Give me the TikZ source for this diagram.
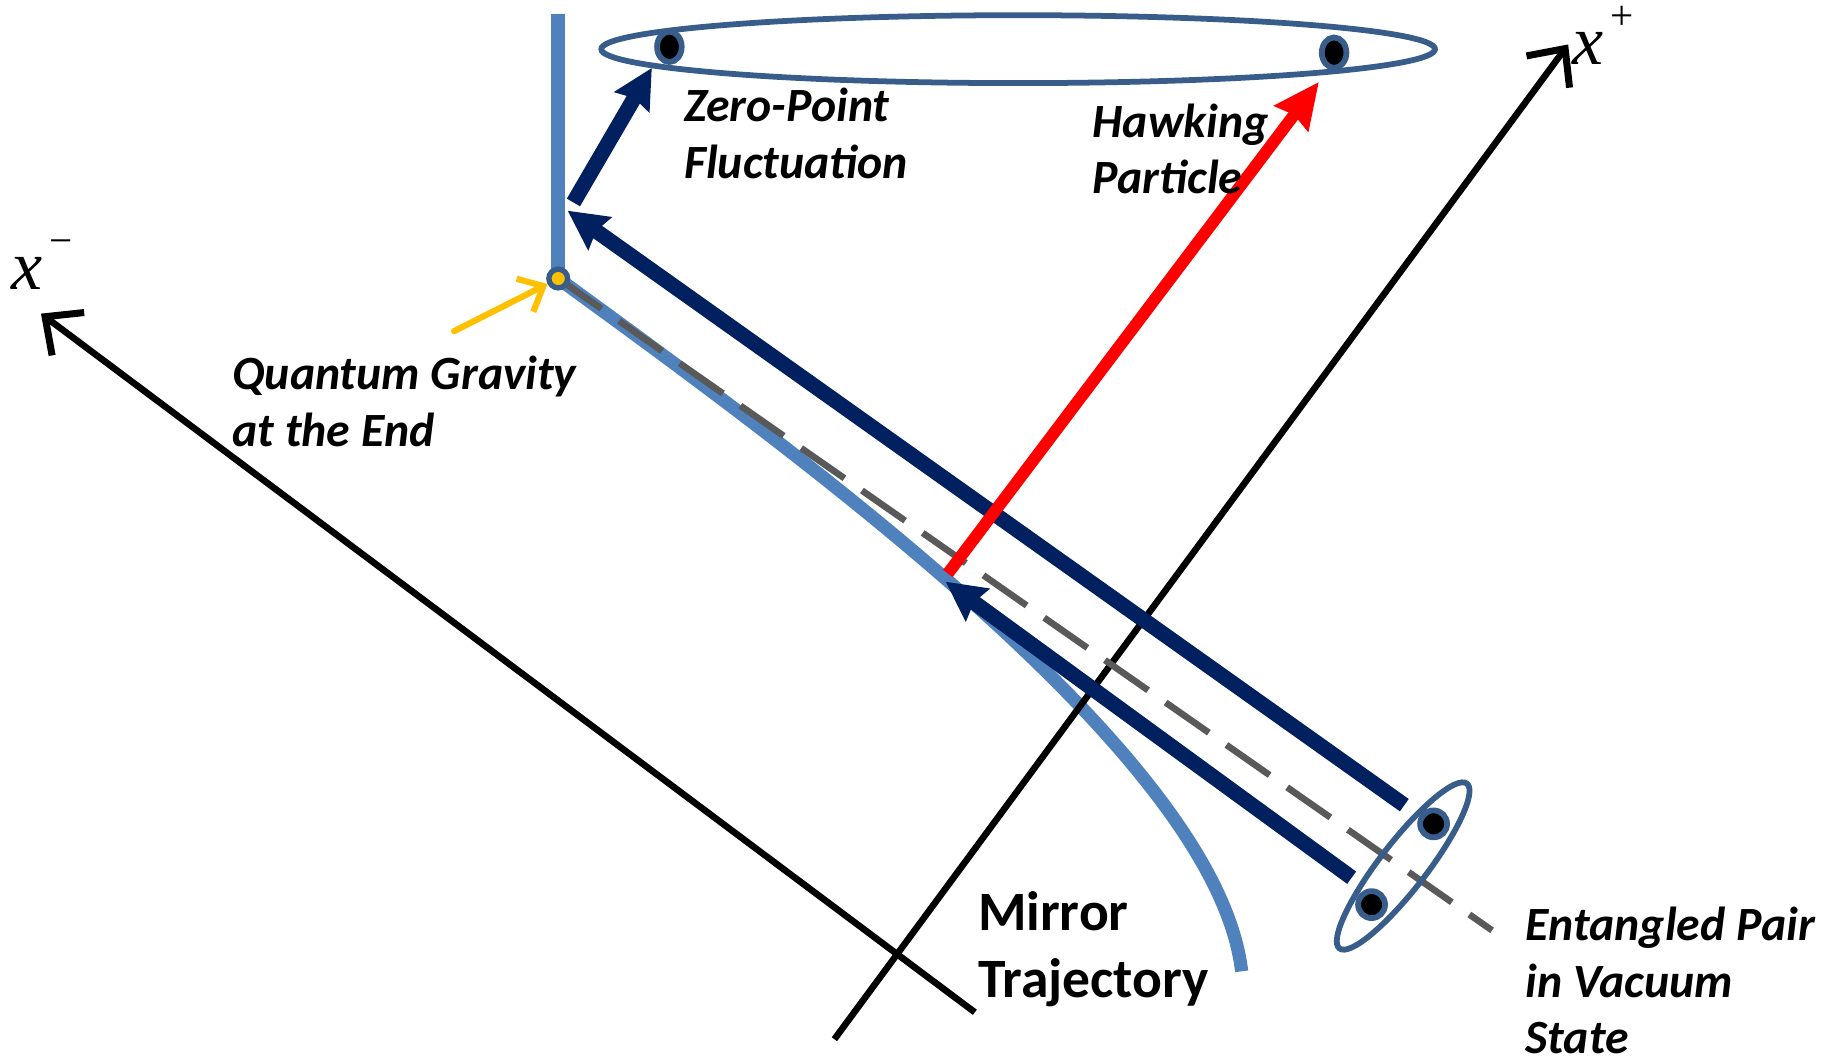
\documentclass[tikz,border=0pt]{standalone}
\usepackage{fontspec}
\setmainfont{Carlito}
\newfontfamily\timesfont{Liberation Serif}
\usepackage{tikz}
\usetikzlibrary{positioning, shapes.geometric, arrows.meta}

\definecolor{mirrorblue}{RGB}{79,129,189}
\definecolor{pairnavy}{RGB}{0,32,96}
\definecolor{ringblue}{RGB}{56,93,138}
\definecolor{dashgray}{RGB}{89,89,89}
\definecolor{qgold}{RGB}{255,192,0}

\begin{document}
\begin{tikzpicture}[x=0.01cm, y=-0.01cm,
    axisline/.style={line width=1.6pt, -{Straight Barb[length=7pt, width=13pt, line width=1.7pt]}},
    ray/.style={pairnavy, line width=3.7pt, -{Stealth[length=9.5pt, width=9.5pt, inset=1pt]}},
    ring/.style={draw=ringblue, line width=1.4pt, ellipse, inner sep=0pt},
    particle/.style={draw=ringblue, line width=1.4pt, fill=black, ellipse, inner sep=0pt},
    note/.style={font=\bfseries\itshape\fontsize{11.6}{13.7}\selectfont, align=left, inner sep=0pt, anchor=west},
    axislabel/.style={font=\timesfont\itshape\fontsize{17}{17}\selectfont, inner sep=0pt},
  ]
  \useasboundingbox (0,0) rectangle (1568,906);

  % Mirror trajectory
  \coordinate (top) at (477,12);
  \coordinate (qg) at (477,238);
  \coordinate (mirrorEnd) at (1061,830);
  \draw[mirrorblue, line width=3.3pt] (top) -- (qg);
  \draw[mirrorblue, line width=3.2pt] (qg) .. controls (700,400) and (1040,650) .. (mirrorEnd);

  % Axes
  \coordinate (xmTail) at (833,865);
  \coordinate (xmTip) at (35,268);
  \coordinate (xpTail) at (713,888);
  \coordinate (xpTip) at (1340,38);
  \draw[axisline] (xmTail) -- (xmTip);
  \draw[axisline] (xpTail) -- (xpTip);
  \node[axislabel] (xm) at (36,226) {x\raisebox{1.1ex}{\upshape\fontsize{10}{10}\selectfont\,−}};
  \node[axislabel] (xp) at (1370,30) {x\raisebox{1.1ex}{\upshape\fontsize{10}{10}\selectfont\,+}};

  % Vacuum line
  \coordinate (dashEnd) at (1275,795);
  \draw[dashgray, line width=1.6pt, dash pattern=on 12.8pt off 5.2pt] (qg) -- (dashEnd);

  % Entangled pair and the ring at the top
  \node[ring, minimum width=1.78cm, minimum height=0.4cm, rotate=52.3] (pair) at (1199,740) {};
  \node[ring, minimum width=7.12cm, minimum height=0.58cm] (ring) at (870,42) {};
  \foreach \name/\x/\y/\w/\h in {inner/1172/773/0.23/0.23, outer/1225/704/0.23/0.23,
                                zp/572/40/0.21/0.26, hp/1140/45/0.21/0.26} {
    \node[particle, minimum width=\w cm, minimum height=\h cm] (\name) at (\x,\y) {};
  }

  % Rays
  \coordinate (upTail) at (1200,688);
  \coordinate (upTip) at (485,180);
  \coordinate (lowTail) at (1155,750);
  \coordinate (lowTip) at (808,497);
  \coordinate (zpTail) at (490,173);
  \coordinate (zpTip) at (557,58);
  \draw[ray] (upTail) -- (upTip);
  \draw[ray] (lowTail) -- (lowTip);
  \draw[ray] (zpTail) -- (zpTip);

  % Hawking particle
  \coordinate (hawkTail) at (810,490);
  \coordinate (hawkTip) at (1127,70);
  \draw[red, line width=2.9pt, -{Stealth[length=11pt, width=10pt, inset=1pt]}] (hawkTail) -- (hawkTip);

  % Quantum gravity point
  \coordinate (qgTail) at (388,283);
  \node[circle, fill=qgold, draw=ringblue, line width=1.3pt, minimum size=0.16cm, inner sep=0pt] (qgdot) at (qg) {};
  \draw[qgold, line width=1.5pt, line cap=round, -{Straight Barb[length=5pt, width=9pt, line width=1.5pt]}] (qgTail) -- (qgdot);

  % Labels
  \node[note] (zpf) at (584,114) {Zero-Point\\Fluctuation};
  \node[note] (hawk) at (933,127) {Hawking\\Particle};
  \node[note] (qgl) at (198,343) {Quantum Gravity\\at the End};
  \node[note] (epl) at (1303,838) {Entangled Pair\\in Vacuum\\State};
  \node[note, font=\bfseries\fontsize{13.5}{16.4}\selectfont] (mtl) at (835,811) {Mirror\\Trajectory};
\end{tikzpicture}
\end{document}
